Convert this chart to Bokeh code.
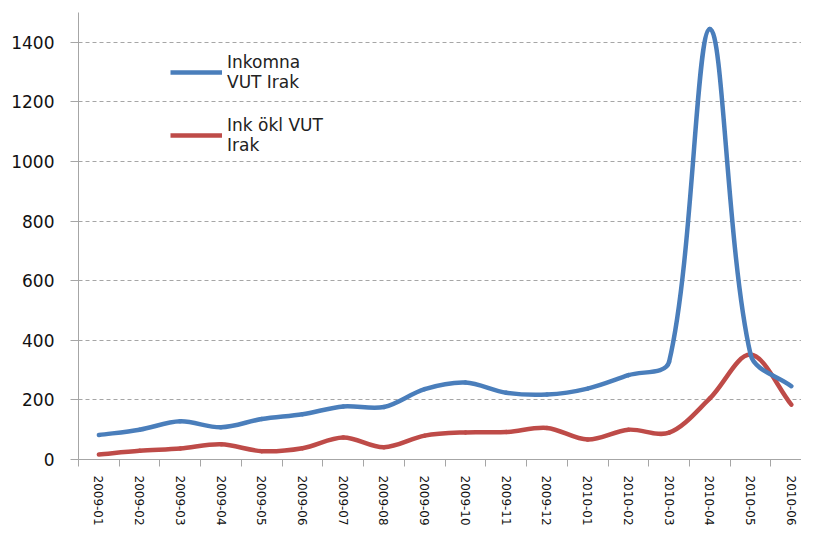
import math
from bokeh.plotting import figure
from bokeh.models import Range1d, FixedTicker, Legend, LegendItem
from bokeh.embed import file_html
from bokeh.resources import INLINE

months = ["2009-01", "2009-02", "2009-03", "2009-04", "2009-05", "2009-06",
          "2009-07", "2009-08", "2009-09", "2009-10", "2009-11", "2009-12",
          "2010-01", "2010-02", "2010-03", "2010-04", "2010-05", "2010-06"]
inkomna = [82, 100, 128, 108, 136, 152, 178, 176, 236, 258, 224, 218, 238, 283, 328, 1445, 352, 246]
inkokl = [17, 29, 37, 51, 28, 38, 74, 41, 80, 91, 92, 106, 67, 100, 90, 205, 352, 184]
yticks = [0, 200, 400, 600, 800, 1000, 1200, 1400]

W, H = 801, 528
X0, X1 = -0.5, 17.25
Y0, Y1 = 0, 1500
FONT = "DejaVu Sans"

p = figure(width=W, height=H, output_backend="svg", toolbar_location=None,
           x_range=Range1d(X0, X1), y_range=Range1d(Y0, Y1),
           min_border_left=78, min_border_right=0, min_border_top=12, min_border_bottom=0)
p.outline_line_color = None
p.background_fill_color = "white"
p.border_fill_color = "white"

# approximate pixel scales for Excel-like smoothing
SX = (W - 78) / (X1 - X0)
SY = 446 / (Y1 - Y0)


def smooth_segments(ys):
    n = len(ys)
    P = [(i * SX, y * SY) for i, y in enumerate(ys)]

    def dist(a, b):
        return math.hypot(a[0] - b[0], a[1] - b[1])

    out = {k: [] for k in ("x0", "y0", "x1", "y1", "cx0", "cy0", "cx1", "cy1")}
    for i in range(n - 1):
        i0 = i - 1 if i > 0 else i
        i3 = i + 2 if i + 2 < n else i + 1
        p0, p1, p2, p3 = P[i0], P[i], P[i + 1], P[i3]
        dp, dn = dist(p0, p1), dist(p1, p2)
        f1 = dn / (dp + dn) / 3.0
        c1 = (p1[0] + (p2[0] - p0[0]) * f1, p1[1] + (p2[1] - p0[1]) * f1)
        dp2, dn2 = dist(p1, p2), dist(p2, p3)
        f2 = dp2 / (dp2 + dn2) / 3.0
        c2 = (p2[0] - (p3[0] - p1[0]) * f2, p2[1] - (p3[1] - p1[1]) * f2)
        out["x0"].append(p1[0] / SX); out["y0"].append(p1[1] / SY)
        out["x1"].append(p2[0] / SX); out["y1"].append(p2[1] / SY)
        out["cx0"].append(c1[0] / SX); out["cy0"].append(c1[1] / SY)
        out["cx1"].append(c2[0] / SX); out["cy1"].append(c2[1] / SY)
    return out


BLUE = "#4A7EBB"
RED = "#BE4B48"
LW = 4.5

for ys, col in ((inkokl, RED), (inkomna, BLUE)):
    s = smooth_segments(ys)
    p.bezier(x0=s["x0"], y0=s["y0"], x1=s["x1"], y1=s["y1"],
             cx0=s["cx0"], cy0=s["cy0"], cx1=s["cx1"], cy1=s["cy1"],
             line_color=col, line_width=LW, line_cap="round")

# legend proxies (nothing drawn in the plot area)
nan = float("nan")
rb = p.line(x=[0, 1], y=[nan, nan], line_color=BLUE, line_width=LW)
rr = p.line(x=[0, 1], y=[nan, nan], line_color=RED, line_width=LW)
legend = Legend(items=[LegendItem(label="Inkomna\nVUT Irak", renderers=[rb], index=0),
                       LegendItem(label="Ink ökl VUT\nIrak", renderers=[rr], index=0)],
                location=(92, 304), orientation="vertical",
                glyph_width=52, glyph_height=20, label_standoff=5,
                spacing=23, padding=0, margin=0,
                border_line_color=None, background_fill_alpha=0,
                label_text_font=FONT, label_text_font_size="17px",
                label_text_line_height=1.4,
                label_text_color="#222222")
p.add_layout(legend)

# x axis
xa = p.xaxis[0]
xa.ticker = FixedTicker(ticks=list(range(len(months))),
                        minor_ticks=[i - 0.5 for i in range(len(months) + 1)])
xa.major_label_overrides = {i: m for i, m in enumerate(months)}
xa.major_label_orientation = -math.pi / 2
xa.major_tick_out = 0
xa.major_tick_in = 0
xa.minor_tick_out = 7
xa.minor_tick_in = 0
xa.minor_tick_line_color = "#A6A6A6"
xa.axis_line_color = "#A6A6A6"
xa.major_label_standoff = 9
xa.major_label_text_font = FONT
xa.major_label_text_font_size = "12px"
xa.major_label_text_color = "#111111"

# y axis
ya = p.yaxis[0]
ya.ticker = FixedTicker(ticks=yticks)
ya.major_tick_out = 8
ya.major_tick_in = 0
ya.minor_tick_out = 0
ya.minor_tick_in = 0
ya.major_tick_line_color = "#A6A6A6"
ya.axis_line_color = "#A6A6A6"
ya.major_label_standoff = 16
ya.major_label_text_font = FONT
ya.major_label_text_font_size = "17px"
ya.major_label_text_color = "#111111"

p.xgrid.grid_line_color = None
p.ygrid.ticker = FixedTicker(ticks=yticks)
p.ygrid.grid_line_color = "#A6A6A6"
p.ygrid.grid_line_dash = "4 3"
p.ygrid.grid_line_width = 1

open("out.html", "w").write(file_html(p, INLINE))
